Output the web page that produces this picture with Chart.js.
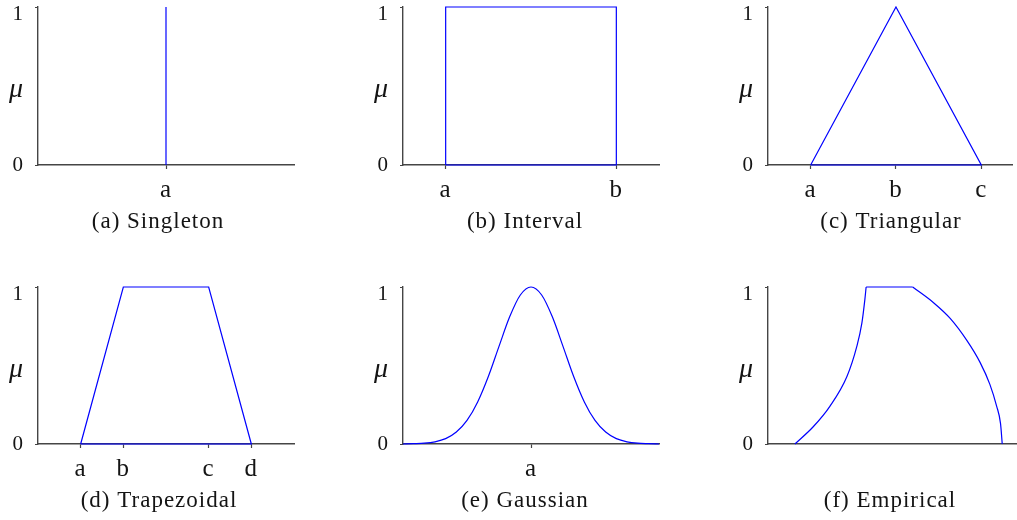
<!DOCTYPE html>
<html>
<head>
<meta charset="utf-8">
<script src="https://cdn.jsdelivr.net/npm/chart.js@4.4.1/dist/chart.umd.min.js"></script>
<style>
  html, body { margin: 0; padding: 0; background: #fff; }
  body { width: 1017px; height: 520px; overflow: hidden; position: relative; }
  canvas { position: absolute; }
</style>
</head>
<body>
<canvas id="fig-a"></canvas>
<canvas id="fig-b"></canvas>
<canvas id="fig-c"></canvas>
<canvas id="fig-d"></canvas>
<canvas id="fig-e"></canvas>
<canvas id="fig-f"></canvas>
<script>
// Membership-function shapes on a 0..6 universe, membership μ in 0..1.

const muTicks = [0, 0.5, 1];
const muTickLabels = ['0', 'μ', '1'];

const singletonTicks = [3];
const singletonTickLabels = ['a'];
const singletonX = [3, 3];
const singletonMu = [0, 1];

const intervalTicks = [1, 5];
const intervalTickLabels = ['a', 'b'];
const intervalX = [1, 1, 5, 5, 1];
const intervalMu = [0, 1, 1, 0, 0];

const triangularTicks = [1, 3, 5];
const triangularTickLabels = ['a', 'b', 'c'];
const triangularX = [1, 3, 5, 1];
const triangularMu = [0, 1, 0, 0];

const trapezoidalTicks = [1, 2, 4, 5];
const trapezoidalTickLabels = ['a', 'b', 'c', 'd'];
const trapezoidalX = [1, 2, 4, 5, 1];
const trapezoidalMu = [0, 1, 1, 0, 0];

const gaussianTicks = [3];
const gaussianTickLabels = ['a'];
const gaussianX = [0, 0.25, 0.5, 0.75, 1, 1.25, 1.5, 1.75, 2, 2.25, 2.5, 2.75, 3,
                   3.25, 3.5, 3.75, 4, 4.25, 4.5, 4.75, 5, 5.25, 5.5, 5.75, 6];
const gaussianMu = [0, 0.002, 0.005, 0.014, 0.034, 0.076, 0.15, 0.268, 0.43, 0.622, 0.81, 0.949, 1,
                    0.949, 0.81, 0.622, 0.43, 0.268, 0.15, 0.076, 0.034, 0.014, 0.005, 0.002, 0];

const empiricalTicks = [];
const empiricalTickLabels = [];
const empiricalRiseX = [0.63, 1.06, 1.45, 1.85, 2.08, 2.2, 2.27, 2.3];
const empiricalRiseMu = [0, 0.11, 0.24, 0.43, 0.62, 0.77, 0.92, 1];
const empiricalTopX = [2.3, 3.39];
const empiricalTopMu = [1, 1];
const empiricalFallX = [3.39, 3.88, 4.27, 4.66, 4.97, 5.2, 5.36, 5.45, 5.49];
const empiricalFallMu = [1, 0.9, 0.8, 0.66, 0.52, 0.38, 0.24, 0.13, 0];

const captions = ['(a) Singleton', '(b) Interval', '(c) Triangular',
                  '(d) Trapezoidal', '(e) Gaussian', '(f) Empirical'];

// ---- drawing ----
const FONT = "'Liberation Serif', 'DejaVu Serif', serif";
const INK = '#141414';
const AXIS = '#454545';
const BLUE = 'rgb(0,0,255)';

// canvas placement of each panel; `gap` is an empty right-hand box that
// keeps the caption centred a little left of the plot's middle
const frames = {
  a: { left: 0,   top: 0,   w: 320, h: 240, plotRight: 294, gap: 22, xMax: 6 },
  b: { left: 365, top: 0,   w: 320, h: 240, plotRight: 294, gap: 26, xMax: 6 },
  c: { left: 730, top: 0,   w: 322, h: 240, plotRight: 282, gap: 40, xMax: 5.72 },
  d: { left: 0,   top: 280, w: 318, h: 239, plotRight: 294, gap: 24, xMax: 6 },
  e: { left: 365, top: 280, w: 320, h: 239, plotRight: 294, gap: 26, xMax: 6 },
  f: { left: 730, top: 280, w: 320, h: 239, plotRight: 294, gap: 26, xMax: 6 }
};

const pts = (xs, ys) => xs.map((x, i) => ({ x: x, y: ys[i] }));

// slightly looser letter spacing for the serif captions
const spacing = {
  id: 'spacing',
  beforeDraw(chart) { chart.ctx.letterSpacing = '1px'; }
};

// y labels: the numerals and μ sit a little below their tick
// (an empty first line pushes the text down by half a line)
const yFonts = {
  0: { family: FONT, size: 21 },
  0.5: { family: FONT, size: 28, style: 'italic', lineHeight: '8px' },
  1: { family: FONT, size: 21, lineHeight: '15px' }
};

function panel(key, caption, tickAt, tickNames, series) {
  const fr = frames[key];
  const cv = document.getElementById('fig-' + key);
  cv.width = fr.w;
  cv.height = fr.h;
  cv.style.left = fr.left + 'px';
  cv.style.top = fr.top + 'px';

  new Chart(cv, {
    type: 'line',
    data: {
      datasets: series.map(s => ({
        data: pts(s.x, s.mu),
        borderColor: BLUE,
        borderWidth: 1.2,
        pointRadius: 0,
        fill: false,
        tension: 0,
        cubicInterpolationMode: s.smooth ? 'monotone' : 'default',
        clip: false
      }))
    },
    plugins: [spacing],
    options: {
      responsive: false,
      animation: false,
      devicePixelRatio: 1,
      events: [],
      layout: { padding: { left: 0, right: fr.w - fr.plotRight - fr.gap, top: 7, bottom: 0 } },
      plugins: {
        legend: { display: false },
        tooltip: { enabled: false },
        title: {
          display: true,
          text: caption,
          position: 'bottom',
          color: INK,
          font: { family: FONT, size: 23, weight: 'normal', lineHeight: '28px' },
          padding: { top: 7, bottom: 4 }
        }
      },
      scales: {
        x: {
          type: 'linear',
          min: 0,
          max: fr.xMax,
          afterBuildTicks: s => { s.ticks = tickAt.map(v => ({ value: v })); },
          afterFit: s => { s.height = 36; s.paddingLeft = 0; s.paddingRight = 0; },
          ticks: {
            display: tickAt.length > 0,
            autoSkip: false,
            maxRotation: 0,
            padding: 6,
            color: INK,
            font: { family: FONT, size: 25 },
            callback: (v, i) => tickNames[i]
          },
          grid: { display: true, drawOnChartArea: false, drawTicks: true,
                  tickLength: 4, tickColor: AXIS, tickWidth: 1.2 },
          border: { display: true, color: AXIS, width: 1.4 }
        },
        y: {
          min: 0,
          max: 1,
          afterBuildTicks: s => { s.ticks = muTicks.map(v => ({ value: v })); },
          afterFit: s => { s.width = 38; s.paddingTop = 0; s.paddingBottom = 0; },
          ticks: {
            padding: 11,
            color: INK,
            font: ctx => yFonts[ctx.tick ? ctx.tick.value : 0],
            callback: (v, i) => v > 0 ? ['', muTickLabels[i]] : muTickLabels[i]
          },
          grid: { display: true, drawOnChartArea: false, drawTicks: true, tickLength: 3,
                  tickWidth: 1.2,
                  tickColor: ctx => (ctx.tick && ctx.tick.value === 0.5) ? 'rgba(0,0,0,0)' : AXIS },
          border: { display: true, color: AXIS, width: 1.4 }
        },
        gap: {
          type: 'linear',
          position: 'right',
          display: true,
          afterFit: s => { s.width = fr.gap; s.paddingTop = 0; s.paddingBottom = 0; },
          ticks: { display: false },
          grid: { display: false },
          border: { display: false }
        }
      }
    }
  });
}

panel('a', captions[0], singletonTicks, singletonTickLabels,
      [{ x: singletonX, mu: singletonMu }]);
panel('b', captions[1], intervalTicks, intervalTickLabels,
      [{ x: intervalX, mu: intervalMu }]);
panel('c', captions[2], triangularTicks, triangularTickLabels,
      [{ x: triangularX, mu: triangularMu }]);
panel('d', captions[3], trapezoidalTicks, trapezoidalTickLabels,
      [{ x: trapezoidalX, mu: trapezoidalMu }]);
panel('e', captions[4], gaussianTicks, gaussianTickLabels,
      [{ x: gaussianX, mu: gaussianMu, smooth: true }]);
panel('f', captions[5], empiricalTicks, empiricalTickLabels,
      [{ x: empiricalRiseX, mu: empiricalRiseMu, smooth: true },
       { x: empiricalTopX, mu: empiricalTopMu },
       { x: empiricalFallX, mu: empiricalFallMu, smooth: true }]);
</script>
</body>
</html>
